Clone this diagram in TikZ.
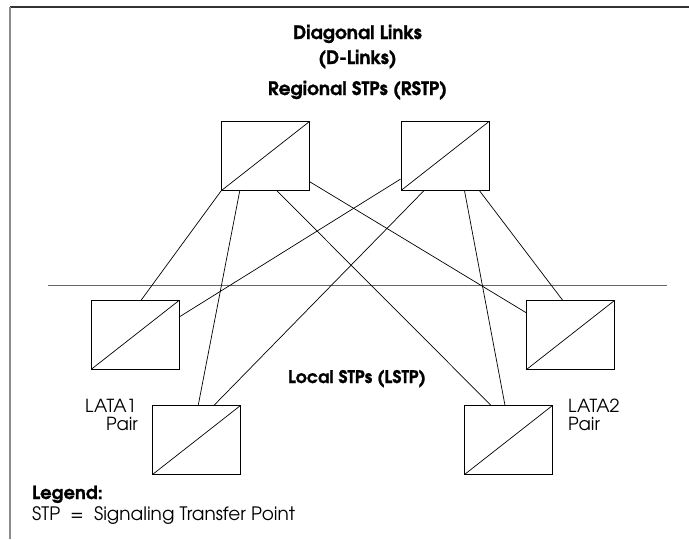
\documentclass[tikz,border=0pt]{standalone}
\usepackage{fontspec}
\setmainfont{TeX Gyre Adventor}[BoldFeatures={FakeBold=1.2}]
\usetikzlibrary{calc}
\begin{document}
\begin{tikzpicture}[x=1pt,y=-1pt,
  stpbox/.style={draw, line width=0.9pt, minimum width=88pt, minimum height=69pt, inner sep=0pt,
    path picture={\draw[line width=0.7pt] (path picture bounding box.south west) -- (path picture bounding box.north east);}},
  link/.style={line width=0.7pt},
  ttl/.style={font=\bfseries\fontsize{18.5}{22}\selectfont, anchor=base, inner sep=0pt},
  lbl/.style={font=\fontsize{18}{21}\selectfont, anchor=base west, inner sep=0pt}]
\useasboundingbox (0,0) rectangle (689,539);
% frame
\draw[line width=1.4pt, black!80] (10,7) -- (689,7);
\draw[line width=2pt, black!45] (10,7) -- (10,539);
\draw[line width=1pt, black!60] (48,285) -- (667,285);
% titles
\node[ttl] (t1) at (357.5,39) {Diagonal Links};
\node[ttl] (t2) at (357.5,64) {(D-Links)};
\node[ttl] (t3) at (357.5,95) {Regional STPs (RSTP)};
\node[ttl, font=\bfseries\fontsize{17.4}{20}\selectfont] (t4) at (357,383) {Local STPs (LSTP)};
% boxes
\node[stpbox] (r1) at (265.5,156) {};
\node[stpbox] (r2) at (445,156) {};
\node[stpbox] (a1) at (135,335) {};
\node[stpbox] (b1) at (196.5,440) {};
\node[stpbox] (a2) at (570.5,335) {};
\node[stpbox] (b2) at (508.5,440) {};
% links from r1
\draw[link] (r1.south west) -- ($(a1.north west)!0.57!(a1.north east)$);
\draw[link] ($(r1.south west)!0.21!(r1.south east)$) -- ($(b1.north west)!0.52!(b1.north east)$);
\draw[link] ($(r1.south west)!0.63!(r1.south east)$) -- ($(b2.north west)!0.30!(b2.north east)$);
\draw[link] ($(r1.north east)!0.87!(r1.south east)$) -- ($(a2.north west)!0.18!(a2.south west)$);
% links from r2
\draw[link] ($(r2.north west)!0.83!(r2.south west)$) -- ($(a1.north east)!0.24!(a1.south east)$);
\draw[link] ($(r2.south west)!0.26!(r2.south east)$) -- ($(b1.north west)!0.70!(b1.north east)$);
\draw[link] ($(r2.south west)!0.72!(r2.south east)$) -- ($(b2.north west)!0.46!(b2.north east)$);
\draw[link] ($(r2.south west)!0.89!(r2.south east)$) -- ($(a2.north west)!0.41!(a2.north east)$);
% labels
\node[lbl] (lata1) at (85,412) {LATA1};
\node[lbl, anchor=base east] (pair1) at (138,430) {Pair};
\node[lbl] (lata2) at (568,412) {LATA2};
\node[lbl] (pair2) at (568,430) {Pair};
\node[font=\bfseries\fontsize{18}{21}\selectfont, anchor=base west, inner sep=0pt] (leg) at (32,499) {Legend:};
\node[font=\fontsize{18.5}{22}\selectfont, anchor=base west, inner sep=0pt] (legtxt) at (32,520) {STP\ \ =\ \ Signaling Transfer Point};
\end{tikzpicture}
\end{document}
